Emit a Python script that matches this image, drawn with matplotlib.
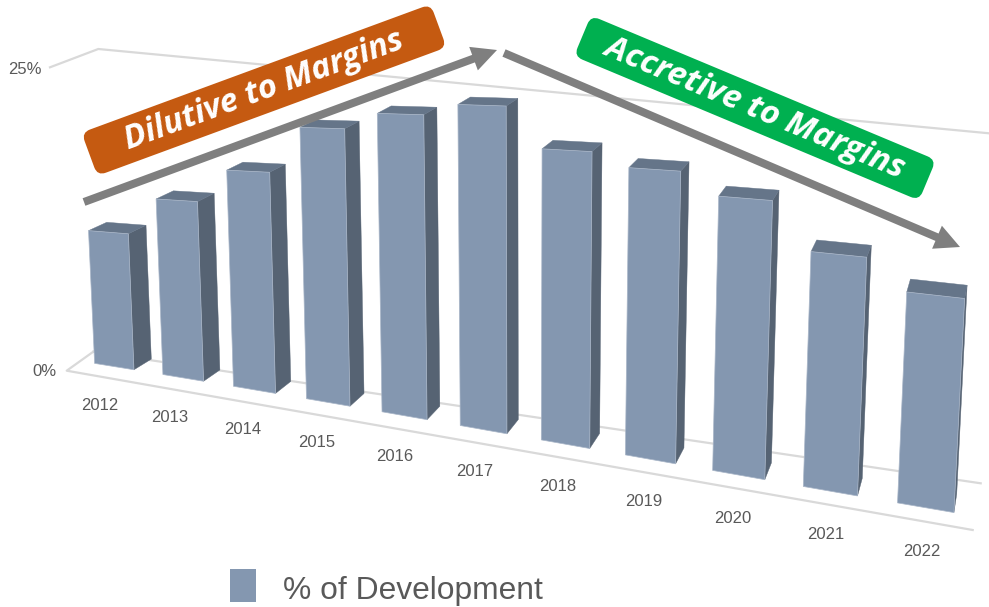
import numpy as np
import matplotlib
matplotlib.use('Agg')
import matplotlib.pyplot as plt
from matplotlib.patches import Polygon, FancyArrow, FancyBboxPatch, Rectangle
from matplotlib.transforms import Affine2D

# Chart data
years = ['2012', '2013', '2014', '2015', '2016', '2017', '2018', '2019', '2020', '2021', '2022']
development = [11.0, 14.0, 16.6, 20.1, 21.3, 22.1, 19.3, 18.4, 17.0, 14.1, 12.3]
axis_ticks = ['0%', '25%']
legend_label = '% of Development'
up_label = 'Dilutive to Margins'
down_label = 'Accretive to Margins'

BAR_W = 0.58

# Colours
FRONT = '#8497B0'
SIDE = '#566373'
TOP = '#657589'
GRID = '#D9D9D9'
ARROW = '#7F7F7F'
TEXT = '#595959'

# Camera calibration, measured on a few bars of the picture:
# front top left, front top right, back top right, front bottom left, front bottom right, back bottom right
camera_bars = [0, 1, 3, 5, 7, 8, 9, 10]
camera_pixel = [
    [(89, 231.7), (128.3, 236.7), (145.7, 226.7), (95, 363.3), (133.7, 370), (151, 356.7)],
    [(156.3, 196), (197.7, 200.7), (213.7, 191.7), (163.3, 375), (203.3, 381.7), (219.3, 368.3)],
    [(300, 126.7), (344.3, 130.7), (359, 121.7), (306.7, 400), (350, 406.7), (364, 393.3)],
    [(458.3, 102.7), (506, 107.3), (518.3, 99), (460.7, 426.7), (506.7, 433.7), (518.7, 420)],
    [(629, 165), (680, 170.7), (689.3, 160.7), (626, 455), (675.3, 463), (684.3, 448.3)],
    [(719, 197.7), (771.7, 202.7), (779, 192), (712.7, 470), (764, 478.3), (770.7, 463.3)],
    [(811.7, 250.7), (866.7, 257.3), (871, 244.3), (803.3, 485.7), (857.3, 494.3), (862.7, 481.7)],
    [(907.3, 291), (964.3, 298.3), (967.3, 285), (898, 501.7), (953.3, 511), (957.3, 497)],
]


def camera_points():
    world, pixel = [], []
    for bar, pixels in zip(camera_bars, camera_pixel):
        v = development[bar]
        world += [(bar, 0, v), (bar + BAR_W, 0, v), (bar + BAR_W, 1, v),
                  (bar, 0, 0), (bar + BAR_W, 0, 0), (bar + BAR_W, 1, 0)]
        pixel += pixels
    return np.array(world, dtype=float), np.array(pixel, dtype=float)


def fit_camera(world, pixel):
    # Plain DLT, least squares through SVD
    rows = []
    for (x, y, z), (px, py) in zip(world, pixel):
        x, y, z = x / 10.0, y, z / 20.0
        px, py = px / 500.0, py / 500.0
        rows.append([x, y, z, 1, 0, 0, 0, 0, -px * x, -px * y, -px * z, -px])
        rows.append([0, 0, 0, 0, x, y, z, 1, -py * x, -py * y, -py * z, -py])
    return np.linalg.svd(np.array(rows))[2][-1].reshape(3, 4)


def pinhole(x, y, z):
    p = cam @ np.array([x / 10.0, y, z / 20.0, 1.0])
    return p[0] / p[2] * 500.0, p[1] / p[2] * 500.0


def warp_terms(u, v):
    u, v = u / 500.0, v / 500.0
    return [1, u, v, u * u, u * v, v * v, u * u * u, u * u * v]


world_pts, pixel_pts = camera_points()
cam = fit_camera(world_pts, pixel_pts)

# The picture is not a true pinhole view, a small polynomial takes up what is left
raw = np.array([pinhole(*w) for w in world_pts])
terms = np.array([warp_terms(u, v) for u, v in raw])
warp = np.linalg.lstsq(terms, pixel_pts - raw, rcond=None)[0]


def project(x, y, z):
    u, v = pinhole(x, y, z)
    du, dv = np.array(warp_terms(u, v)) @ warp
    return u + du, v + dv


def draw_bar(ax, i, value):
    x0, x1 = i, i + BAR_W
    front = [project(x0, 0, value), project(x1, 0, value), project(x1, 0, 0), project(x0, 0, 0)]
    side = [project(x1, 0, value), project(x1, 1, value), project(x1, 1, 0), project(x1, 0, 0)]
    top = [project(x0, 0, value), project(x0, 1, value), project(x1, 1, value), project(x1, 0, value)]
    ax.add_patch(Polygon(side, closed=True, fc=SIDE, ec=SIDE, lw=0.3, zorder=3))
    ax.add_patch(Polygon(top, closed=True, fc=TOP, ec=TOP, lw=0.3, zorder=3))
    ax.add_patch(Polygon(front, closed=True, fc=FRONT, ec='#A9B6C8', lw=0.5, zorder=3))


def draw_banner(ax, cx, cy, length, height, angle, color, label, size):
    box = FancyBboxPatch((-length / 2 + 8, -height / 2 + 8), length - 16, height - 16,
                         boxstyle='round,pad=8,rounding_size=9', fc=color, ec='none', zorder=6)
    box.set_transform(Affine2D().rotate_deg(angle).translate(cx, cy) + ax.transData)
    ax.add_patch(box)
    # y axis is inverted, so the text rotation has the opposite sign
    ax.text(cx, cy, label, color='white', fontsize=size, fontweight='bold', fontstyle='italic',
            family='Open Sans', rotation=-angle, rotation_mode='anchor',
            ha='center', va='center', zorder=7)


fig = plt.figure(figsize=(9.89, 6.07), dpi=100)
ax = fig.add_axes([0, 0, 1, 1])
ax.set_xlim(0, 989)
ax.set_ylim(607, 0)
ax.axis('off')

# Wall and floor lines
ax.plot([50, 98.3, 989], [67.3, 49, 133.3], color=GRID, lw=1.6, zorder=1)
ax.plot([93.3, 66.7, 972.7], [351.7, 370.7, 530], color=GRID, lw=1.6, zorder=1)
ax.plot([93.3, 980.7], [351.7, 483.3], color=GRID, lw=1.6, zorder=1)

for i, value in enumerate(development):
    draw_bar(ax, i, value)

# Year labels under the bars
for i, year in enumerate(years):
    px, py = project(i + BAR_W / 2, 0, 0)
    ax.text(px - 14 + i, py + 39 + 0.5 * i, year, color=TEXT, fontsize=12, family='Liberation Sans',
            ha='center', va='center', zorder=4)

ax.text(44, 372, axis_ticks[0], color=TEXT, fontsize=12, family='Liberation Sans', ha='center', va='center')
ax.text(25, 69, axis_ticks[1], color=TEXT, fontsize=12, family='Liberation Sans', ha='center', va='center')

# Trend arrows
ax.add_patch(FancyArrow(84, 202, 413, -152, width=8, head_width=25, head_length=25,
                        length_includes_head=True, fc=ARROW, ec='none', zorder=5))
ax.add_patch(FancyArrow(504, 53, 456, 194, width=8, head_width=25, head_length=25,
                        length_includes_head=True, fc=ARROW, ec='none', zorder=5))

draw_banner(ax, 264, 90, 372, 46, -20.2, '#C55A11', up_label, 23.8)
draw_banner(ax, 755, 108, 374, 44, 22.7, '#00B050', down_label, 24)

# Legend
ax.add_patch(Rectangle((230, 569), 25.5, 33, fc=FRONT, ec='none'))
ax.text(283, 590.5, legend_label, color=TEXT, fontsize=22.9, family='Liberation Sans', ha='left', va='center')

fig.savefig('out.png', dpi=100)
